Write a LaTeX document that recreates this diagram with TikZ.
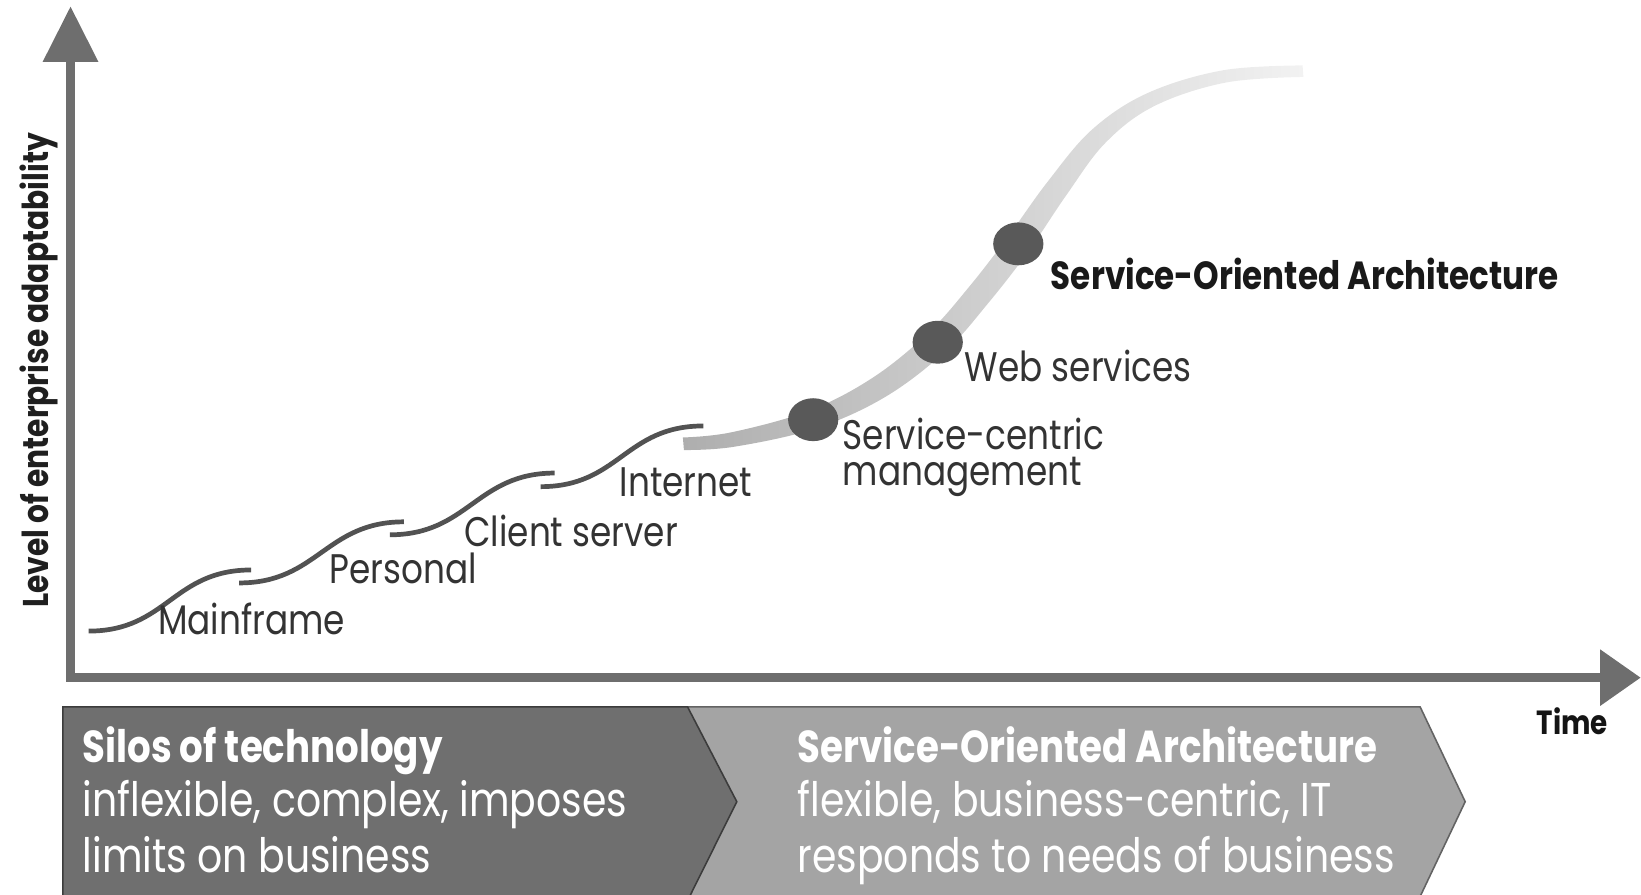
\documentclass[tikz,border=0pt]{standalone}
\usepackage{fontspec}
\setmainfont{Poppins}[FakeStretch=0.83]
\usetikzlibrary{shapes.geometric}
\definecolor{axisgray}{HTML}{6E6E6E}
\definecolor{stepgray}{HTML}{525252}
\definecolor{dotgray}{HTML}{595959}
\definecolor{labelgray}{HTML}{333333}
\definecolor{darkbox}{HTML}{6F6F6F}
\definecolor{lightbox}{HTML}{A4A4A4}
\definecolor{boxedge}{HTML}{3C3C3C}
\definecolor{bandA}{HTML}{AEAEAE}
\definecolor{bandB}{HTML}{C8C8C8}
\definecolor{bandC}{HTML}{F2F2F2}
\begin{document}
\begin{tikzpicture}[x=1pt,y=-1pt,
  lbl/.style={anchor=base west, inner sep=0pt, text=labelgray, font=\fontsize{39.5}{44}\selectfont},
  boldlbl/.style={anchor=base west, inner sep=0pt, text=black!90, font=\bfseries\fontsize{37.5}{42}\selectfont},
  boxhead/.style={anchor=base west, inner sep=0pt, text=white, font=\bfseries\fontsize{42.8}{50}\selectfont},
  boxtext/.style={anchor=base west, inner sep=0pt, text=white, font=\fontsize{45.3}{53}\selectfont},
  stepline/.style={draw=stepgray, line width=4.5pt, line cap=butt},
  dot/.style={ellipse, fill=dotgray, minimum width=48pt, minimum height=41pt, inner sep=0pt},
  axisline/.style={draw=axisgray, line width=8.6pt, line join=miter},
  arrowtip/.style={fill=axisgray},
  box/.style={line width=1.5pt, line join=miter},
]
\useasboundingbox (0,0) rectangle (1568,855);

% ---------- bottom boxes ----------
\filldraw[box, fill=lightbox, draw=boxedge!80] (657,675.5) -- (1357,675.5) -- (1400,766) -- (1357,856.5) -- (657,856.5) -- cycle;
\filldraw[box, fill=darkbox, draw=boxedge] (60,675.5) -- (657,675.5) -- (704,766) -- (659,856.5) -- (60,856.5) -- cycle;

\node[boxhead] (silos) at (79,729) {Silos of technology};
\node[boxtext] (silos2) at (79,780.5) {inflexible, complex, imposes};
\node[boxtext] (silos3) at (79,834) {limits on business};

\node[boxhead] (soa) at (762,729) {Service-Oriented Architecture};
\node[boxtext] (soa2) at (762,780.5) {flexible, business-centric, IT};
\node[boxtext] (soa3) at (762,834) {responds to needs of business};

% ---------- axes ----------
\coordinate (ytop) at (67.4,59);
\coordinate (origin) at (67.4,647.5);
\coordinate (xend) at (1529,647.5);
\draw[axisline] (ytop) -- (origin) -- (xend);
\fill[arrowtip] (67.4,6.4) -- (94,59) -- (40.8,59) -- cycle;
\fill[arrowtip] (1567.5,647.5) -- (1529,620.5) -- (1529,674.5) -- cycle;

\node[anchor=base, rotate=90, inner sep=0pt, text=black!88, font=\bfseries\fontsize{34.2}{40}\selectfont] (ylabel) at (46,354) {Level of enterprise adaptability};
\node[anchor=base west, inner sep=0pt, text=black!92, font=\bfseries\fontsize{32}{36}\selectfont] (time) at (1468,702) {Time};

% ---------- steps ----------
\coordinate (s1) at (84.6,603);   \coordinate (e1) at (240,544.6);
\coordinate (s2) at (228.5,557);  \coordinate (e2) at (386,498.6);
\coordinate (s3) at (372.5,511);  \coordinate (e3) at (530,452);
\coordinate (s4) at (516.6,465);  \coordinate (e4) at (672,407);
\draw[stepline] (s1) .. controls +(75,0) and +(-75,0) .. (e1);
\draw[stepline] (s2) .. controls +(75,0) and +(-75,0) .. (e2);
\draw[stepline] (s3) .. controls +(75,0) and +(-75,0) .. (e3);
\draw[stepline] (s4) .. controls +(75,0) and +(-75,0) .. (e4);

\node[lbl] (mainframe) at (151,606.7) {Mainframe};
\node[lbl] (personal) at (314.6,558) {Personal};
\node[lbl] (client) at (443.5,522) {Client server};
\node[lbl] (internet) at (592,474.5) {Internet};

% ---------- SOA band ----------
\shade[left color=bandA, middle color=bandB, right color=bandC]
  plot[smooth, tension=0.6] coordinates {(652.5,418) (698.7,413.1) (773,392.5) (834.2,360.7) (886.8,318.2) (925.8,274.3) (963.3,225.9) (1001.2,173.4) (1043.8,123.5) (1097,88.7) (1168.9,67.1) (1244.6,62.5)}
  -- plot[smooth, tension=0.6] coordinates {(1245.4,73.5) (1171.1,78.9) (1103,101.3) (1056.2,136.5) (1018.8,186.6) (982.7,240.1) (944.2,289.7) (903.2,335.8) (845.8,379.3) (779,409.5) (701.3,426.9) (653.5,430)}
  -- cycle;

\node[dot] (dsc) at (777,401) {};
\node[dot] (dws) at (896,327) {};
\node[dot] (dsoa) at (973,233) {};

\node[lbl, anchor=north west, align=left, font=\fontsize{39.5}{34}\selectfont] (sc) at (805,399.4) {Service-centric\\management};
\node[lbl] (ws) at (921.7,364.7) {Web services};
\node[boldlbl] (soalbl) at (1004,277) {Service-Oriented Architecture};
\end{tikzpicture}
\end{document}
